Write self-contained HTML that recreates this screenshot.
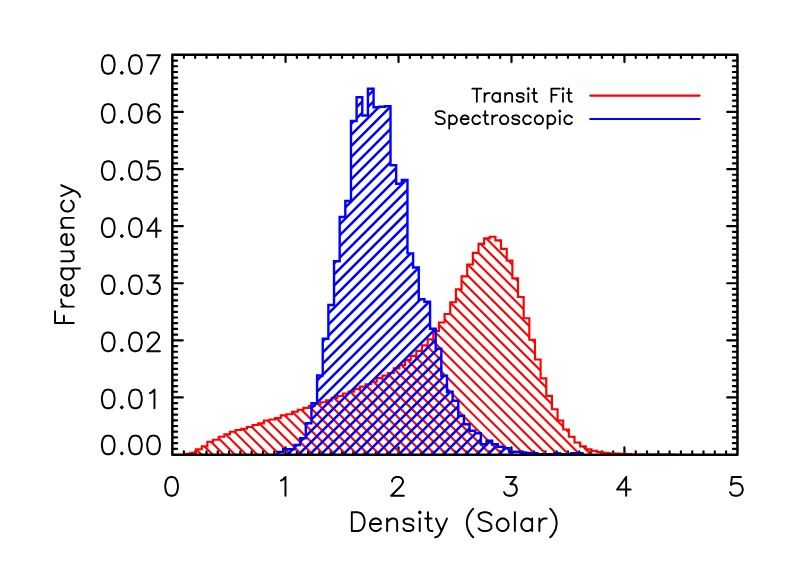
<!DOCTYPE html>
<html><head><meta charset="utf-8"><title>Density histogram</title>
<style>html,body{margin:0;padding:0;background:#fff;font-family:"Liberation Sans",sans-serif}svg{display:block}</style></head>
<body>
<svg width="789" height="564" viewBox="0 0 789 564">
<rect width="789" height="564" fill="#fff"/>
<defs><clipPath id="cr"><polygon points="184.80,454.55 184.80,453.70 190.44,453.70 190.44,452.90 196.09,452.90 196.09,449.20 201.74,449.20 201.74,446.30 207.39,446.30 207.39,441.70 213.04,441.70 213.04,439.70 218.68,439.70 218.68,436.70 224.33,436.70 224.33,434.20 229.98,434.20 229.98,431.70 235.63,431.70 235.63,430.00 241.28,430.00 241.28,428.70 246.92,428.70 246.92,427.00 252.57,427.00 252.57,425.00 258.22,425.00 258.22,423.30 263.87,423.30 263.87,420.50 269.52,420.50 269.52,419.50 275.16,419.50 275.16,418.00 280.81,418.00 280.81,415.30 286.46,415.30 286.46,414.20 292.11,414.20 292.11,411.70 297.76,411.70 297.76,409.70 303.40,409.70 303.40,407.80 309.05,407.80 309.05,405.90 314.70,405.90 314.70,404.00 320.35,404.00 320.35,402.20 326.00,402.20 326.00,400.30 331.64,400.30 331.64,397.80 337.29,397.80 337.29,396.00 342.94,396.00 342.94,393.50 348.59,393.50 348.59,391.60 354.24,391.60 354.24,388.80 359.88,388.80 359.88,386.60 365.53,386.60 365.53,384.20 371.18,384.20 371.18,381.70 376.83,381.70 376.83,378.00 382.48,378.00 382.48,375.60 388.12,375.60 388.12,373.00 393.77,373.00 393.77,368.30 399.42,368.30 399.42,365.00 405.07,365.00 405.07,360.00 410.72,360.00 410.72,355.80 416.36,355.80 416.36,350.80 422.01,350.80 422.01,345.30 427.66,345.30 427.66,339.20 433.31,339.20 433.31,330.80 438.96,330.80 438.96,322.50 444.60,322.50 444.60,314.00 450.25,314.00 450.25,302.20 455.90,302.20 455.90,289.20 461.55,289.20 461.55,276.30 467.20,276.30 467.20,264.50 472.84,264.50 472.84,252.80 478.49,252.80 478.49,243.80 484.14,243.80 484.14,238.30 489.79,238.30 489.79,236.70 495.44,236.70 495.44,240.30 501.08,240.30 501.08,248.80 506.73,248.80 506.73,260.50 512.38,260.50 512.38,278.30 518.03,278.30 518.03,297.00 523.68,297.00 523.68,318.20 529.32,318.20 529.32,339.70 534.97,339.70 534.97,359.50 540.62,359.50 540.62,378.30 546.27,378.30 546.27,395.80 551.92,395.80 551.92,409.20 557.56,409.20 557.56,420.50 563.21,420.50 563.21,429.50 568.86,429.50 568.86,436.70 574.51,436.70 574.51,442.50 580.16,442.50 580.16,446.30 585.80,446.30 585.80,449.20 591.45,449.20 591.45,450.80 597.10,450.80 597.10,452.00 602.75,452.00 602.75,452.70 608.40,452.70 608.40,453.20 614.04,453.20 614.04,453.50 619.69,453.50 619.69,453.90 625.34,453.90 625.34,454.10 630.99,454.10 630.99,454.65 636.64,454.65 636.64,454.65 642.28,454.65 642.28,454.65 647.93,454.65 647.93,454.65 653.58,454.65 653.58,454.65 659.23,454.65 659.23,454.65 664.88,454.65 664.88,454.65 670.52,454.65 670.52,454.65 676.17,454.65 676.17,454.55"/></clipPath><clipPath id="cb"><polygon points="277.55,454.55 277.55,452.00 283.20,452.00 283.20,449.20 288.85,449.20 288.85,449.20 294.50,449.20 294.50,445.00 300.14,445.00 300.14,438.30 305.79,438.30 305.79,423.30 311.44,423.30 311.44,403.30 317.09,403.30 317.09,375.50 322.74,375.50 322.74,338.80 328.38,338.80 328.38,305.00 334.03,305.00 334.03,261.20 339.68,261.20 339.68,217.00 345.33,217.00 345.33,201.00 350.98,201.00 350.98,121.00 356.62,121.00 356.62,97.20 362.27,97.20 362.27,115.50 367.92,115.50 367.92,88.80 373.57,88.80 373.57,107.20 379.22,107.20 379.22,106.70 384.86,106.70 384.86,106.20 390.51,106.20 390.51,165.20 396.16,165.20 396.16,183.75 401.81,183.75 401.81,180.00 407.46,180.00 407.46,253.40 413.10,253.40 413.10,267.50 418.75,267.50 418.75,299.20 424.40,299.20 424.40,301.70 430.05,301.70 430.05,328.70 435.70,328.70 435.70,348.70 441.34,348.70 441.34,375.80 446.99,375.80 446.99,391.70 452.64,391.70 452.64,400.80 458.29,400.80 458.29,415.80 463.94,415.80 463.94,424.20 469.58,424.20 469.58,430.80 475.23,430.80 475.23,433.30 480.88,433.30 480.88,444.20 486.53,444.20 486.53,440.80 492.18,440.80 492.18,444.20 497.82,444.20 497.82,446.70 503.47,446.70 503.47,448.30 509.12,448.30 509.12,451.70 514.77,451.70 514.77,451.70 520.42,451.70 520.42,452.50 526.06,452.50 526.06,453.00 531.71,453.00 531.71,453.30 537.36,453.30 537.36,454.30 543.01,454.30 543.01,454.30 548.66,454.30 548.66,454.30 554.30,454.30 554.30,453.20 559.95,453.20 559.95,454.30 565.60,454.30 565.60,454.30 571.25,454.30 571.25,453.30 576.90,453.30 576.90,453.30 582.54,453.30 582.54,454.55"/></clipPath></defs>
<path fill="none" stroke="#000" stroke-linecap="round" stroke-width="2.20" d="M183.90 454.55v-3.10 M183.90 54.85v3.10 M195.19 454.55v-3.10 M195.19 54.85v3.10 M206.49 454.55v-3.10 M206.49 54.85v3.10 M217.78 454.55v-3.10 M217.78 54.85v3.10 M229.08 454.55v-3.10 M229.08 54.85v3.10 M240.38 454.55v-3.10 M240.38 54.85v3.10 M251.67 454.55v-3.10 M251.67 54.85v3.10 M262.97 454.55v-3.10 M262.97 54.85v3.10 M274.26 454.55v-3.10 M274.26 54.85v3.10 M285.56 454.55v-7.20 M285.56 54.85v7.20 M296.86 454.55v-3.10 M296.86 54.85v3.10 M308.15 454.55v-3.10 M308.15 54.85v3.10 M319.45 454.55v-3.10 M319.45 54.85v3.10 M330.74 454.55v-3.10 M330.74 54.85v3.10 M342.04 454.55v-3.10 M342.04 54.85v3.10 M353.34 454.55v-3.10 M353.34 54.85v3.10 M364.63 454.55v-3.10 M364.63 54.85v3.10 M375.93 454.55v-3.10 M375.93 54.85v3.10 M387.22 454.55v-3.10 M387.22 54.85v3.10 M398.52 454.55v-7.20 M398.52 54.85v7.20 M409.82 454.55v-3.10 M409.82 54.85v3.10 M421.11 454.55v-3.10 M421.11 54.85v3.10 M432.41 454.55v-3.10 M432.41 54.85v3.10 M443.70 454.55v-3.10 M443.70 54.85v3.10 M455.00 454.55v-3.10 M455.00 54.85v3.10 M466.30 454.55v-3.10 M466.30 54.85v3.10 M477.59 454.55v-3.10 M477.59 54.85v3.10 M488.89 454.55v-3.10 M488.89 54.85v3.10 M500.18 454.55v-3.10 M500.18 54.85v3.10 M511.48 454.55v-7.20 M511.48 54.85v7.20 M522.78 454.55v-3.10 M522.78 54.85v3.10 M534.07 454.55v-3.10 M534.07 54.85v3.10 M545.37 454.55v-3.10 M545.37 54.85v3.10 M556.66 454.55v-3.10 M556.66 54.85v3.10 M567.96 454.55v-3.10 M567.96 54.85v3.10 M579.26 454.55v-3.10 M579.26 54.85v3.10 M590.55 454.55v-3.10 M590.55 54.85v3.10 M601.85 454.55v-3.10 M601.85 54.85v3.10 M613.14 454.55v-3.10 M613.14 54.85v3.10 M624.44 454.55v-7.20 M624.44 54.85v7.20 M635.74 454.55v-3.10 M635.74 54.85v3.10 M647.03 454.55v-3.10 M647.03 54.85v3.10 M658.33 454.55v-3.10 M658.33 54.85v3.10 M669.62 454.55v-3.10 M669.62 54.85v3.10 M680.92 454.55v-3.10 M680.92 54.85v3.10 M692.22 454.55v-3.10 M692.22 54.85v3.10 M703.51 454.55v-3.10 M703.51 54.85v3.10 M714.81 454.55v-3.10 M714.81 54.85v3.10 M726.10 454.55v-3.10 M726.10 54.85v3.10 M172.60 448.84h4.50 M737.40 448.84h-4.50 M172.60 443.13h4.50 M737.40 443.13h-4.50 M172.60 437.42h4.50 M737.40 437.42h-4.50 M172.60 431.71h4.50 M737.40 431.71h-4.50 M172.60 426.00h4.50 M737.40 426.00h-4.50 M172.60 420.29h4.50 M737.40 420.29h-4.50 M172.60 414.58h4.50 M737.40 414.58h-4.50 M172.60 408.87h4.50 M737.40 408.87h-4.50 M172.60 403.16h4.50 M737.40 403.16h-4.50 M172.60 397.45h10.20 M737.40 397.45h-10.20 M172.60 391.74h4.50 M737.40 391.74h-4.50 M172.60 386.03h4.50 M737.40 386.03h-4.50 M172.60 380.32h4.50 M737.40 380.32h-4.50 M172.60 374.61h4.50 M737.40 374.61h-4.50 M172.60 368.90h4.50 M737.40 368.90h-4.50 M172.60 363.19h4.50 M737.40 363.19h-4.50 M172.60 357.48h4.50 M737.40 357.48h-4.50 M172.60 351.77h4.50 M737.40 351.77h-4.50 M172.60 346.06h4.50 M737.40 346.06h-4.50 M172.60 340.35h10.20 M737.40 340.35h-10.20 M172.60 334.64h4.50 M737.40 334.64h-4.50 M172.60 328.93h4.50 M737.40 328.93h-4.50 M172.60 323.22h4.50 M737.40 323.22h-4.50 M172.60 317.51h4.50 M737.40 317.51h-4.50 M172.60 311.80h4.50 M737.40 311.80h-4.50 M172.60 306.09h4.50 M737.40 306.09h-4.50 M172.60 300.38h4.50 M737.40 300.38h-4.50 M172.60 294.67h4.50 M737.40 294.67h-4.50 M172.60 288.96h4.50 M737.40 288.96h-4.50 M172.60 283.25h10.20 M737.40 283.25h-10.20 M172.60 277.54h4.50 M737.40 277.54h-4.50 M172.60 271.83h4.50 M737.40 271.83h-4.50 M172.60 266.12h4.50 M737.40 266.12h-4.50 M172.60 260.41h4.50 M737.40 260.41h-4.50 M172.60 254.70h4.50 M737.40 254.70h-4.50 M172.60 248.99h4.50 M737.40 248.99h-4.50 M172.60 243.28h4.50 M737.40 243.28h-4.50 M172.60 237.57h4.50 M737.40 237.57h-4.50 M172.60 231.86h4.50 M737.40 231.86h-4.50 M172.60 226.15h10.20 M737.40 226.15h-10.20 M172.60 220.44h4.50 M737.40 220.44h-4.50 M172.60 214.73h4.50 M737.40 214.73h-4.50 M172.60 209.02h4.50 M737.40 209.02h-4.50 M172.60 203.31h4.50 M737.40 203.31h-4.50 M172.60 197.60h4.50 M737.40 197.60h-4.50 M172.60 191.89h4.50 M737.40 191.89h-4.50 M172.60 186.18h4.50 M737.40 186.18h-4.50 M172.60 180.47h4.50 M737.40 180.47h-4.50 M172.60 174.76h4.50 M737.40 174.76h-4.50 M172.60 169.05h10.20 M737.40 169.05h-10.20 M172.60 163.34h4.50 M737.40 163.34h-4.50 M172.60 157.63h4.50 M737.40 157.63h-4.50 M172.60 151.92h4.50 M737.40 151.92h-4.50 M172.60 146.21h4.50 M737.40 146.21h-4.50 M172.60 140.50h4.50 M737.40 140.50h-4.50 M172.60 134.79h4.50 M737.40 134.79h-4.50 M172.60 129.08h4.50 M737.40 129.08h-4.50 M172.60 123.37h4.50 M737.40 123.37h-4.50 M172.60 117.66h4.50 M737.40 117.66h-4.50 M172.60 111.95h10.20 M737.40 111.95h-10.20 M172.60 106.24h4.50 M737.40 106.24h-4.50 M172.60 100.53h4.50 M737.40 100.53h-4.50 M172.60 94.82h4.50 M737.40 94.82h-4.50 M172.60 89.11h4.50 M737.40 89.11h-4.50 M172.60 83.40h4.50 M737.40 83.40h-4.50 M172.60 77.69h4.50 M737.40 77.69h-4.50 M172.60 71.98h4.50 M737.40 71.98h-4.50 M172.60 66.27h4.50 M737.40 66.27h-4.50 M172.60 60.56h4.50 M737.40 60.56h-4.50"/>
<g fill="none" stroke="#f00" stroke-linecap="round" stroke-linejoin="round">
<path clip-path="url(#cr)" stroke-width="2.10" d="M165.00 -260.91 L645.00 219.09 M165.00 -249.78 L645.00 230.22 M165.00 -238.65 L645.00 241.35 M165.00 -227.52 L645.00 252.48 M165.00 -216.39 L645.00 263.61 M165.00 -205.26 L645.00 274.74 M165.00 -194.13 L645.00 285.87 M165.00 -183.00 L645.00 297.00 M165.00 -171.87 L645.00 308.13 M165.00 -160.74 L645.00 319.26 M165.00 -149.61 L645.00 330.39 M165.00 -138.48 L645.00 341.52 M165.00 -127.35 L645.00 352.65 M165.00 -116.22 L645.00 363.78 M165.00 -105.09 L645.00 374.91 M165.00 -93.96 L645.00 386.04 M165.00 -82.83 L645.00 397.17 M165.00 -71.70 L645.00 408.30 M165.00 -60.57 L645.00 419.43 M165.00 -49.44 L645.00 430.56 M165.00 -38.31 L645.00 441.69 M165.00 -27.18 L645.00 452.82 M165.00 -16.05 L645.00 463.95 M165.00 -4.92 L645.00 475.08 M165.00 6.21 L645.00 486.21 M165.00 17.34 L645.00 497.34 M165.00 28.47 L645.00 508.47 M165.00 39.60 L645.00 519.60 M165.00 50.73 L645.00 530.73 M165.00 61.86 L645.00 541.86 M165.00 72.99 L645.00 552.99 M165.00 84.12 L645.00 564.12 M165.00 95.25 L645.00 575.25 M165.00 106.38 L645.00 586.38 M165.00 117.51 L645.00 597.51 M165.00 128.64 L645.00 608.64 M165.00 139.77 L645.00 619.77 M165.00 150.90 L645.00 630.90 M165.00 162.03 L645.00 642.03 M165.00 173.16 L645.00 653.16 M165.00 184.29 L645.00 664.29 M165.00 195.42 L645.00 675.42 M165.00 206.55 L645.00 686.55 M165.00 217.68 L645.00 697.68 M165.00 228.81 L645.00 708.81 M165.00 239.94 L645.00 719.94 M165.00 251.07 L645.00 731.07 M165.00 262.20 L645.00 742.20 M165.00 273.33 L645.00 753.33 M165.00 284.46 L645.00 764.46 M165.00 295.59 L645.00 775.59 M165.00 306.72 L645.00 786.72 M165.00 317.85 L645.00 797.85 M165.00 328.98 L645.00 808.98 M165.00 340.11 L645.00 820.11 M165.00 351.24 L645.00 831.24 M165.00 362.37 L645.00 842.37 M165.00 373.50 L645.00 853.50 M165.00 384.63 L645.00 864.63 M165.00 395.76 L645.00 875.76 M165.00 406.89 L645.00 886.89 M165.00 418.02 L645.00 898.02 M165.00 429.15 L645.00 909.15 M165.00 440.28 L645.00 920.28 M165.00 451.41 L645.00 931.41 M165.00 462.54 L645.00 942.54 M165.00 473.67 L645.00 953.67"/>
<polyline stroke-linejoin="miter" stroke-width="2.15" points="184.80,454.55 184.80,453.70 190.44,453.70 190.44,452.90 196.09,452.90 196.09,449.20 201.74,449.20 201.74,446.30 207.39,446.30 207.39,441.70 213.04,441.70 213.04,439.70 218.68,439.70 218.68,436.70 224.33,436.70 224.33,434.20 229.98,434.20 229.98,431.70 235.63,431.70 235.63,430.00 241.28,430.00 241.28,428.70 246.92,428.70 246.92,427.00 252.57,427.00 252.57,425.00 258.22,425.00 258.22,423.30 263.87,423.30 263.87,420.50 269.52,420.50 269.52,419.50 275.16,419.50 275.16,418.00 280.81,418.00 280.81,415.30 286.46,415.30 286.46,414.20 292.11,414.20 292.11,411.70 297.76,411.70 297.76,409.70 303.40,409.70 303.40,407.80 309.05,407.80 309.05,405.90 314.70,405.90 314.70,404.00 320.35,404.00 320.35,402.20 326.00,402.20 326.00,400.30 331.64,400.30 331.64,397.80 337.29,397.80 337.29,396.00 342.94,396.00 342.94,393.50 348.59,393.50 348.59,391.60 354.24,391.60 354.24,388.80 359.88,388.80 359.88,386.60 365.53,386.60 365.53,384.20 371.18,384.20 371.18,381.70 376.83,381.70 376.83,378.00 382.48,378.00 382.48,375.60 388.12,375.60 388.12,373.00 393.77,373.00 393.77,368.30 399.42,368.30 399.42,365.00 405.07,365.00 405.07,360.00 410.72,360.00 410.72,355.80 416.36,355.80 416.36,350.80 422.01,350.80 422.01,345.30 427.66,345.30 427.66,339.20 433.31,339.20 433.31,330.80 438.96,330.80 438.96,322.50 444.60,322.50 444.60,314.00 450.25,314.00 450.25,302.20 455.90,302.20 455.90,289.20 461.55,289.20 461.55,276.30 467.20,276.30 467.20,264.50 472.84,264.50 472.84,252.80 478.49,252.80 478.49,243.80 484.14,243.80 484.14,238.30 489.79,238.30 489.79,236.70 495.44,236.70 495.44,240.30 501.08,240.30 501.08,248.80 506.73,248.80 506.73,260.50 512.38,260.50 512.38,278.30 518.03,278.30 518.03,297.00 523.68,297.00 523.68,318.20 529.32,318.20 529.32,339.70 534.97,339.70 534.97,359.50 540.62,359.50 540.62,378.30 546.27,378.30 546.27,395.80 551.92,395.80 551.92,409.20 557.56,409.20 557.56,420.50 563.21,420.50 563.21,429.50 568.86,429.50 568.86,436.70 574.51,436.70 574.51,442.50 580.16,442.50 580.16,446.30 585.80,446.30 585.80,449.20 591.45,449.20 591.45,450.80 597.10,450.80 597.10,452.00 602.75,452.00 602.75,452.70 608.40,452.70 608.40,453.20 614.04,453.20 614.04,453.50 619.69,453.50 619.69,453.90 625.34,453.90 625.34,454.10 630.99,454.10 630.99,454.65 636.64,454.65 636.64,454.65 642.28,454.65 642.28,454.65 647.93,454.65 647.93,454.65 653.58,454.65 653.58,454.65 659.23,454.65 659.23,454.65 664.88,454.65 664.88,454.65 670.52,454.65 670.52,454.65 676.17,454.65 676.17,454.55"/>
</g>
<g fill="none" stroke="#00f" stroke-linecap="round" stroke-linejoin="round">
<path clip-path="url(#cb)" stroke-width="2.50" d="M265.00 65.24 L595.00 -264.76 M265.00 76.37 L595.00 -253.63 M265.00 87.50 L595.00 -242.50 M265.00 98.63 L595.00 -231.37 M265.00 109.76 L595.00 -220.24 M265.00 120.89 L595.00 -209.11 M265.00 132.02 L595.00 -197.98 M265.00 143.15 L595.00 -186.85 M265.00 154.28 L595.00 -175.72 M265.00 165.41 L595.00 -164.59 M265.00 176.54 L595.00 -153.46 M265.00 187.67 L595.00 -142.33 M265.00 198.80 L595.00 -131.20 M265.00 209.93 L595.00 -120.07 M265.00 221.06 L595.00 -108.94 M265.00 232.19 L595.00 -97.81 M265.00 243.32 L595.00 -86.68 M265.00 254.45 L595.00 -75.55 M265.00 265.58 L595.00 -64.42 M265.00 276.71 L595.00 -53.29 M265.00 287.84 L595.00 -42.16 M265.00 298.97 L595.00 -31.03 M265.00 310.10 L595.00 -19.90 M265.00 321.23 L595.00 -8.77 M265.00 332.36 L595.00 2.36 M265.00 343.49 L595.00 13.49 M265.00 354.62 L595.00 24.62 M265.00 365.75 L595.00 35.75 M265.00 376.88 L595.00 46.88 M265.00 388.01 L595.00 58.01 M265.00 399.14 L595.00 69.14 M265.00 410.27 L595.00 80.27 M265.00 421.40 L595.00 91.40 M265.00 432.53 L595.00 102.53 M265.00 443.66 L595.00 113.66 M265.00 454.79 L595.00 124.79 M265.00 465.92 L595.00 135.92 M265.00 477.05 L595.00 147.05 M265.00 488.18 L595.00 158.18 M265.00 499.31 L595.00 169.31 M265.00 510.44 L595.00 180.44 M265.00 521.57 L595.00 191.57 M265.00 532.70 L595.00 202.70 M265.00 543.83 L595.00 213.83 M265.00 554.96 L595.00 224.96 M265.00 566.09 L595.00 236.09 M265.00 577.22 L595.00 247.22 M265.00 588.35 L595.00 258.35 M265.00 599.48 L595.00 269.48 M265.00 610.61 L595.00 280.61 M265.00 621.74 L595.00 291.74 M265.00 632.87 L595.00 302.87 M265.00 644.00 L595.00 314.00 M265.00 655.13 L595.00 325.13 M265.00 666.26 L595.00 336.26 M265.00 677.39 L595.00 347.39 M265.00 688.52 L595.00 358.52 M265.00 699.65 L595.00 369.65 M265.00 710.78 L595.00 380.78 M265.00 721.91 L595.00 391.91 M265.00 733.04 L595.00 403.04 M265.00 744.17 L595.00 414.17 M265.00 755.30 L595.00 425.30 M265.00 766.43 L595.00 436.43 M265.00 777.56 L595.00 447.56 M265.00 788.69 L595.00 458.69 M265.00 799.82 L595.00 469.82"/>
<polyline stroke-linejoin="miter" stroke-width="2.40" points="277.55,454.55 277.55,452.00 283.20,452.00 283.20,449.20 288.85,449.20 288.85,449.20 294.50,449.20 294.50,445.00 300.14,445.00 300.14,438.30 305.79,438.30 305.79,423.30 311.44,423.30 311.44,403.30 317.09,403.30 317.09,375.50 322.74,375.50 322.74,338.80 328.38,338.80 328.38,305.00 334.03,305.00 334.03,261.20 339.68,261.20 339.68,217.00 345.33,217.00 345.33,201.00 350.98,201.00 350.98,121.00 356.62,121.00 356.62,97.20 362.27,97.20 362.27,115.50 367.92,115.50 367.92,88.80 373.57,88.80 373.57,107.20 379.22,107.20 379.22,106.70 384.86,106.70 384.86,106.20 390.51,106.20 390.51,165.20 396.16,165.20 396.16,183.75 401.81,183.75 401.81,180.00 407.46,180.00 407.46,253.40 413.10,253.40 413.10,267.50 418.75,267.50 418.75,299.20 424.40,299.20 424.40,301.70 430.05,301.70 430.05,328.70 435.70,328.70 435.70,348.70 441.34,348.70 441.34,375.80 446.99,375.80 446.99,391.70 452.64,391.70 452.64,400.80 458.29,400.80 458.29,415.80 463.94,415.80 463.94,424.20 469.58,424.20 469.58,430.80 475.23,430.80 475.23,433.30 480.88,433.30 480.88,444.20 486.53,444.20 486.53,440.80 492.18,440.80 492.18,444.20 497.82,444.20 497.82,446.70 503.47,446.70 503.47,448.30 509.12,448.30 509.12,451.70 514.77,451.70 514.77,451.70 520.42,451.70 520.42,452.50 526.06,452.50 526.06,453.00 531.71,453.00 531.71,453.30 537.36,453.30 537.36,454.30 543.01,454.30 543.01,454.30 548.66,454.30 548.66,454.30 554.30,454.30 554.30,453.20 559.95,453.20 559.95,454.30 565.60,454.30 565.60,454.30 571.25,454.30 571.25,453.30 576.90,453.30 576.90,453.30 582.54,453.30 582.54,454.55"/>
</g>
<g fill="none" stroke-linecap="round" stroke-width="2.2">
<path stroke="#f00" d="M590.3 95.6H699.6"/>
<path stroke="#00f" d="M590.3 119.0H699.6"/>
</g>
<rect x="172.35" y="54.85" width="565.10" height="399.80" fill="none" stroke="#000" stroke-linejoin="round" stroke-width="2.50"/>
<path fill="none" stroke="#000" stroke-width="1.95" stroke-linecap="round" stroke-linejoin="round" d="M107.33 435.60L104.62 436.49L102.80 439.15L101.90 443.59L101.90 446.26L102.80 450.70L104.62 453.36L107.33 454.25L109.15 454.25L111.86 453.36L113.68 450.70L114.58 446.26L114.58 443.59L113.68 439.15L111.86 436.49L109.15 435.60L107.33 435.60 M121.83 452.47L120.92 453.36L121.83 454.25L122.74 453.36L121.83 452.47 M134.51 435.60L131.80 436.49L129.98 439.15L129.08 443.59L129.08 446.26L129.98 450.70L131.80 453.36L134.51 454.25L136.33 454.25L139.04 453.36L140.86 450.70L141.76 446.26L141.76 443.59L140.86 439.15L139.04 436.49L136.33 435.60L134.51 435.60 M152.63 435.60L149.92 436.49L148.10 439.15L147.20 443.59L147.20 446.26L148.10 450.70L149.92 453.36L152.63 454.25L154.45 454.25L157.16 453.36L158.98 450.70L159.88 446.26L159.88 443.59L158.98 439.15L157.16 436.49L154.45 435.60L152.63 435.60 M107.33 389.60L104.62 390.49L102.80 393.15L101.90 397.59L101.90 400.26L102.80 404.70L104.62 407.36L107.33 408.25L109.15 408.25L111.86 407.36L113.68 404.70L114.58 400.26L114.58 397.59L113.68 393.15L111.86 390.49L109.15 389.60L107.33 389.60 M121.83 406.47L120.92 407.36L121.83 408.25L122.74 407.36L121.83 406.47 M134.51 389.60L131.80 390.49L129.98 393.15L129.08 397.59L129.08 400.26L129.98 404.70L131.80 407.36L134.51 408.25L136.33 408.25L139.04 407.36L140.86 404.70L141.76 400.26L141.76 397.59L140.86 393.15L139.04 390.49L136.33 389.60L134.51 389.60 M149.92 393.15L151.73 392.27L154.45 389.60L154.45 408.25 M107.33 332.50L104.62 333.39L102.80 336.05L101.90 340.49L101.90 343.16L102.80 347.60L104.62 350.26L107.33 351.15L109.15 351.15L111.86 350.26L113.68 347.60L114.58 343.16L114.58 340.49L113.68 336.05L111.86 333.39L109.15 332.50L107.33 332.50 M121.83 349.37L120.92 350.26L121.83 351.15L122.74 350.26L121.83 349.37 M134.51 332.50L131.80 333.39L129.98 336.05L129.08 340.49L129.08 343.16L129.98 347.60L131.80 350.26L134.51 351.15L136.33 351.15L139.04 350.26L140.86 347.60L141.76 343.16L141.76 340.49L140.86 336.05L139.04 333.39L136.33 332.50L134.51 332.50 M148.10 336.94L148.10 336.05L149.01 334.28L149.92 333.39L151.73 332.50L155.35 332.50L157.16 333.39L158.07 334.28L158.98 336.05L158.98 337.83L158.07 339.61L156.26 342.27L147.20 351.15L159.88 351.15 M107.33 275.40L104.62 276.29L102.80 278.95L101.90 283.39L101.90 286.06L102.80 290.50L104.62 293.16L107.33 294.05L109.15 294.05L111.86 293.16L113.68 290.50L114.58 286.06L114.58 283.39L113.68 278.95L111.86 276.29L109.15 275.40L107.33 275.40 M121.83 292.27L120.92 293.16L121.83 294.05L122.74 293.16L121.83 292.27 M134.51 275.40L131.80 276.29L129.98 278.95L129.08 283.39L129.08 286.06L129.98 290.50L131.80 293.16L134.51 294.05L136.33 294.05L139.04 293.16L140.86 290.50L141.76 286.06L141.76 283.39L140.86 278.95L139.04 276.29L136.33 275.40L134.51 275.40 M149.01 275.40L158.98 275.40L153.54 282.51L156.26 282.51L158.07 283.39L158.98 284.28L159.88 286.95L159.88 288.72L158.98 291.39L157.16 293.16L154.45 294.05L151.73 294.05L149.01 293.16L148.10 292.27L147.20 290.50 M107.33 218.30L104.62 219.19L102.80 221.85L101.90 226.29L101.90 228.96L102.80 233.40L104.62 236.06L107.33 236.95L109.15 236.95L111.86 236.06L113.68 233.40L114.58 228.96L114.58 226.29L113.68 221.85L111.86 219.19L109.15 218.30L107.33 218.30 M121.83 235.17L120.92 236.06L121.83 236.95L122.74 236.06L121.83 235.17 M134.51 218.30L131.80 219.19L129.98 221.85L129.08 226.29L129.08 228.96L129.98 233.40L131.80 236.06L134.51 236.95L136.33 236.95L139.04 236.06L140.86 233.40L141.76 228.96L141.76 226.29L140.86 221.85L139.04 219.19L136.33 218.30L134.51 218.30 M156.26 218.30L147.20 230.73L160.79 230.73 M156.26 218.30L156.26 236.95 M107.33 161.20L104.62 162.09L102.80 164.75L101.90 169.19L101.90 171.86L102.80 176.30L104.62 178.96L107.33 179.85L109.15 179.85L111.86 178.96L113.68 176.30L114.58 171.86L114.58 169.19L113.68 164.75L111.86 162.09L109.15 161.20L107.33 161.20 M121.83 178.07L120.92 178.96L121.83 179.85L122.74 178.96L121.83 178.07 M134.51 161.20L131.80 162.09L129.98 164.75L129.08 169.19L129.08 171.86L129.98 176.30L131.80 178.96L134.51 179.85L136.33 179.85L139.04 178.96L140.86 176.30L141.76 171.86L141.76 169.19L140.86 164.75L139.04 162.09L136.33 161.20L134.51 161.20 M158.07 161.20L149.01 161.20L148.10 169.19L149.01 168.31L151.73 167.42L154.45 167.42L157.16 168.31L158.98 170.08L159.88 172.75L159.88 174.52L158.98 177.19L157.16 178.96L154.45 179.85L151.73 179.85L149.01 178.96L148.10 178.07L147.20 176.30 M107.33 104.10L104.62 104.99L102.80 107.65L101.90 112.09L101.90 114.76L102.80 119.20L104.62 121.86L107.33 122.75L109.15 122.75L111.86 121.86L113.68 119.20L114.58 114.76L114.58 112.09L113.68 107.65L111.86 104.99L109.15 104.10L107.33 104.10 M121.83 120.97L120.92 121.86L121.83 122.75L122.74 121.86L121.83 120.97 M134.51 104.10L131.80 104.99L129.98 107.65L129.08 112.09L129.08 114.76L129.98 119.20L131.80 121.86L134.51 122.75L136.33 122.75L139.04 121.86L140.86 119.20L141.76 114.76L141.76 112.09L140.86 107.65L139.04 104.99L136.33 104.10L134.51 104.10 M158.98 106.77L158.07 104.99L155.35 104.10L153.54 104.10L150.82 104.99L149.01 107.65L148.10 112.09L148.10 116.53L149.01 120.09L150.82 121.86L153.54 122.75L154.45 122.75L157.16 121.86L158.98 120.09L159.88 117.42L159.88 116.53L158.98 113.87L157.16 112.09L154.45 111.21L153.54 111.21L150.82 112.09L149.01 113.87L148.10 116.53 M107.33 55.15L104.62 56.04L102.80 58.70L101.90 63.14L101.90 65.81L102.80 70.25L104.62 72.91L107.33 73.80L109.15 73.80L111.86 72.91L113.68 70.25L114.58 65.81L114.58 63.14L113.68 58.70L111.86 56.04L109.15 55.15L107.33 55.15 M121.83 72.02L120.92 72.91L121.83 73.80L122.74 72.91L121.83 72.02 M134.51 55.15L131.80 56.04L129.98 58.70L129.08 63.14L129.08 65.81L129.98 70.25L131.80 72.91L134.51 73.80L136.33 73.80L139.04 72.91L140.86 70.25L141.76 65.81L141.76 63.14L140.86 58.70L139.04 56.04L136.33 55.15L134.51 55.15 M159.88 55.15L150.82 73.80 M147.20 55.15L159.88 55.15 M170.69 477.05L167.98 477.94L166.16 480.60L165.26 485.04L165.26 487.71L166.16 492.15L167.98 494.81L170.69 495.70L172.51 495.70L175.22 494.81L177.04 492.15L177.94 487.71L177.94 485.04L177.04 480.60L175.22 477.94L172.51 477.05L170.69 477.05 M280.94 480.60L282.75 479.72L285.47 477.05L285.47 495.70 M392.08 481.49L392.08 480.60L392.99 478.83L393.90 477.94L395.71 477.05L399.33 477.05L401.14 477.94L402.05 478.83L402.96 480.60L402.96 482.38L402.05 484.16L400.24 486.82L391.18 495.70L403.86 495.70 M505.95 477.05L515.92 477.05L510.48 484.16L513.20 484.16L515.01 485.04L515.92 485.93L516.82 488.60L516.82 490.37L515.92 493.04L514.10 494.81L511.39 495.70L508.67 495.70L505.95 494.81L505.04 493.92L504.14 492.15 M626.16 477.05L617.10 489.48L630.69 489.48 M626.16 477.05L626.16 495.70 M740.93 477.05L731.87 477.05L730.96 485.04L731.87 484.16L734.59 483.27L737.31 483.27L740.02 484.16L741.84 485.93L742.74 488.60L742.74 490.37L741.84 493.04L740.02 494.81L737.31 495.70L734.59 495.70L731.87 494.81L730.96 493.92L730.06 492.15 M351.82 512.35L351.82 531.00 M351.82 512.35L358.16 512.35L360.88 513.24L362.69 515.02L363.60 516.79L364.51 519.46L364.51 523.90L363.60 526.56L362.69 528.34L360.88 530.11L358.16 531.00L351.82 531.00 M369.94 523.90L380.81 523.90L380.81 522.12L379.91 520.34L379.00 519.46L377.19 518.57L374.47 518.57L372.66 519.46L370.85 521.23L369.94 523.90L369.94 525.67L370.85 528.34L372.66 530.11L374.47 531.00L377.19 531.00L379.00 530.11L380.81 528.34 M387.16 518.57L387.16 531.00 M387.16 522.12L389.87 519.46L391.69 518.57L394.40 518.57L396.22 519.46L397.12 522.12L397.12 531.00 M413.43 521.23L412.52 519.46L409.81 518.57L407.09 518.57L404.37 519.46L403.46 521.23L404.37 523.01L406.18 523.90L410.71 524.78L412.52 525.67L413.43 527.45L413.43 528.34L412.52 530.11L409.81 531.00L407.09 531.00L404.37 530.11L403.46 528.34 M418.87 512.35L419.77 513.24L420.68 512.35L419.77 511.46L418.87 512.35 M419.77 518.57L419.77 531.00 M427.93 512.35L427.93 527.45L428.83 530.11L430.64 531.00L432.46 531.00 M425.21 518.57L431.55 518.57 M436.08 518.57L441.52 531.00 M446.95 518.57L441.52 531.00L439.70 534.55L437.89 536.33L436.08 537.22L435.17 537.22 M473.23 508.80L471.41 510.58L469.60 513.24L467.79 516.79L466.88 521.23L466.88 524.78L467.79 529.22L469.60 532.78L471.41 535.44L473.23 537.22 M491.35 515.02L489.53 513.24L486.82 512.35L483.19 512.35L480.47 513.24L478.66 515.02L478.66 516.79L479.57 518.57L480.47 519.46L482.29 520.34L487.72 522.12L489.53 523.01L490.44 523.90L491.35 525.67L491.35 528.34L489.53 530.11L486.82 531.00L483.19 531.00L480.47 530.11L478.66 528.34 M501.31 518.57L499.50 519.46L497.69 521.23L496.78 523.90L496.78 525.67L497.69 528.34L499.50 530.11L501.31 531.00L504.03 531.00L505.84 530.11L507.65 528.34L508.56 525.67L508.56 523.90L507.65 521.23L505.84 519.46L504.03 518.57L501.31 518.57 M514.90 512.35L514.90 531.00 M532.12 518.57L532.12 531.00 M532.12 521.23L530.30 519.46L528.49 518.57L525.77 518.57L523.96 519.46L522.15 521.23L521.24 523.90L521.24 525.67L522.15 528.34L523.96 530.11L525.77 531.00L528.49 531.00L530.30 530.11L532.12 528.34 M539.36 518.57L539.36 531.00 M539.36 523.90L540.27 521.23L542.08 519.46L543.89 518.57L546.61 518.57 M550.24 508.80L552.05 510.58L553.86 513.24L555.67 516.79L556.58 521.23L556.58 524.78L555.67 529.22L553.86 532.78L552.05 535.44L550.24 537.22 M55.05 322.95L73.70 322.95 M55.05 322.95L55.05 311.17 M63.93 322.95L63.93 315.70 M61.27 306.64L73.70 306.64 M66.60 306.64L63.93 305.74L62.16 303.92L61.27 302.11L61.27 299.39 M66.60 295.77L66.60 284.90L64.82 284.90L63.04 285.80L62.16 286.71L61.27 288.52L61.27 291.24L62.16 293.05L63.93 294.86L66.60 295.77L68.37 295.77L71.04 294.86L72.81 293.05L73.70 291.24L73.70 288.52L72.81 286.71L71.04 284.90 M61.27 268.59L79.92 268.59 M63.93 268.59L62.16 270.40L61.27 272.21L61.27 274.93L62.16 276.74L63.93 278.56L66.60 279.46L68.37 279.46L71.04 278.56L72.81 276.74L73.70 274.93L73.70 272.21L72.81 270.40L71.04 268.59 M61.27 261.34L70.15 261.34L72.81 260.44L73.70 258.62L73.70 255.91L72.81 254.09L70.15 251.38 M61.27 251.38L73.70 251.38 M66.60 245.03L66.60 234.16L64.82 234.16L63.04 235.07L62.16 235.97L61.27 237.79L61.27 240.50L62.16 242.32L63.93 244.13L66.60 245.03L68.37 245.03L71.04 244.13L72.81 242.32L73.70 240.50L73.70 237.79L72.81 235.97L71.04 234.16 M61.27 227.82L73.70 227.82 M64.82 227.82L62.16 225.10L61.27 223.29L61.27 220.57L62.16 218.76L64.82 217.85L73.70 217.85 M63.93 200.64L62.16 202.45L61.27 204.26L61.27 206.98L62.16 208.79L63.93 210.61L66.60 211.51L68.37 211.51L71.04 210.61L72.81 208.79L73.70 206.98L73.70 204.26L72.81 202.45L71.04 200.64 M61.27 196.11L73.70 190.67 M61.27 185.24L73.70 190.67L77.25 192.49L79.03 194.30L79.92 196.11L79.92 197.02"/>
<path fill="none" stroke="#000" stroke-width="1.80" stroke-linecap="round" stroke-linejoin="round" d="M476.84 88.67L476.84 101.80 M472.33 88.67L481.34 88.67 M484.55 93.05L484.55 101.80 M484.55 96.80L485.19 94.92L486.48 93.67L487.77 93.05L489.70 93.05 M499.98 93.05L499.98 101.80 M499.98 94.92L498.70 93.67L497.41 93.05L495.48 93.05L494.20 93.67L492.91 94.92L492.27 96.80L492.27 98.05L492.91 99.92L494.20 101.17L495.48 101.80L497.41 101.80L498.70 101.17L499.98 99.92 M505.13 93.05L505.13 101.80 M505.13 95.55L507.06 93.67L508.34 93.05L510.27 93.05L511.56 93.67L512.20 95.55L512.20 101.80 M523.77 94.92L523.13 93.67L521.20 93.05L519.27 93.05L517.34 93.67L516.70 94.92L517.34 96.17L518.63 96.80L521.85 97.42L523.13 98.05L523.77 99.30L523.77 99.92L523.13 101.17L521.20 101.80L519.27 101.80L517.34 101.17L516.70 99.92 M527.63 88.67L528.28 89.30L528.92 88.67L528.28 88.05L527.63 88.67 M528.28 93.05L528.28 101.80 M534.06 88.67L534.06 99.30L534.71 101.17L535.99 101.80L537.28 101.80 M532.13 93.05L536.63 93.05 M551.42 88.67L551.42 101.80 M551.42 88.67L559.78 88.67 M551.42 94.92L556.57 94.92 M562.35 88.67L563.00 89.30L563.64 88.67L563.00 88.05L562.35 88.67 M563.00 93.05L563.00 101.80 M568.78 88.67L568.78 99.30L569.43 101.17L570.71 101.80L572.00 101.80 M566.86 93.05L571.36 93.05 M444.69 112.95L443.40 111.70L441.47 111.08L438.90 111.08L436.97 111.70L435.68 112.95L435.68 114.20L436.33 115.45L436.97 116.08L438.26 116.70L442.11 117.95L443.40 118.58L444.04 119.20L444.69 120.45L444.69 122.33L443.40 123.58L441.47 124.20L438.90 124.20L436.97 123.58L435.68 122.33 M449.19 115.45L449.19 128.57 M449.19 117.33L450.47 116.08L451.76 115.45L453.69 115.45L454.97 116.08L456.26 117.33L456.90 119.20L456.90 120.45L456.26 122.33L454.97 123.58L453.69 124.20L451.76 124.20L450.47 123.58L449.19 122.33 M460.76 119.20L468.48 119.20L468.48 117.95L467.83 116.70L467.19 116.08L465.90 115.45L463.98 115.45L462.69 116.08L461.40 117.33L460.76 119.20L460.76 120.45L461.40 122.33L462.69 123.58L463.98 124.20L465.90 124.20L467.19 123.58L468.48 122.33 M480.05 117.33L478.76 116.08L477.48 115.45L475.55 115.45L474.26 116.08L472.98 117.33L472.33 119.20L472.33 120.45L472.98 122.33L474.26 123.58L475.55 124.20L477.48 124.20L478.76 123.58L480.05 122.33 M485.19 111.08L485.19 121.70L485.84 123.58L487.12 124.20L488.41 124.20 M483.27 115.45L487.77 115.45 M492.27 115.45L492.27 124.20 M492.27 119.20L492.91 117.33L494.20 116.08L495.48 115.45L497.41 115.45 M503.20 115.45L501.91 116.08L500.63 117.33L499.98 119.20L499.98 120.45L500.63 122.33L501.91 123.58L503.20 124.20L505.13 124.20L506.41 123.58L507.70 122.33L508.34 120.45L508.34 119.20L507.70 117.33L506.41 116.08L505.13 115.45L503.20 115.45 M519.27 117.33L518.63 116.08L516.70 115.45L514.77 115.45L512.84 116.08L512.20 117.33L512.84 118.58L514.13 119.20L517.34 119.83L518.63 120.45L519.27 121.70L519.27 122.33L518.63 123.58L516.70 124.20L514.77 124.20L512.84 123.58L512.20 122.33 M530.85 117.33L529.56 116.08L528.28 115.45L526.35 115.45L525.06 116.08L523.77 117.33L523.13 119.20L523.13 120.45L523.77 122.33L525.06 123.58L526.35 124.20L528.28 124.20L529.56 123.58L530.85 122.33 M537.92 115.45L536.63 116.08L535.35 117.33L534.71 119.20L534.71 120.45L535.35 122.33L536.63 123.58L537.92 124.20L539.85 124.20L541.14 123.58L542.42 122.33L543.06 120.45L543.06 119.20L542.42 117.33L541.14 116.08L539.85 115.45L537.92 115.45 M547.57 115.45L547.57 128.57 M547.57 117.33L548.85 116.08L550.14 115.45L552.07 115.45L553.35 116.08L554.64 117.33L555.28 119.20L555.28 120.45L554.64 122.33L553.35 123.58L552.07 124.20L550.14 124.20L548.85 123.58L547.57 122.33 M559.14 111.08L559.78 111.70L560.43 111.08L559.78 110.45L559.14 111.08 M559.78 115.45L559.78 124.20 M572.00 117.33L570.71 116.08L569.43 115.45L567.50 115.45L566.21 116.08L564.93 117.33L564.28 119.20L564.28 120.45L564.93 122.33L566.21 123.58L567.50 124.20L569.43 124.20L570.71 123.58L572.00 122.33"/>
</svg>
</body></html>
